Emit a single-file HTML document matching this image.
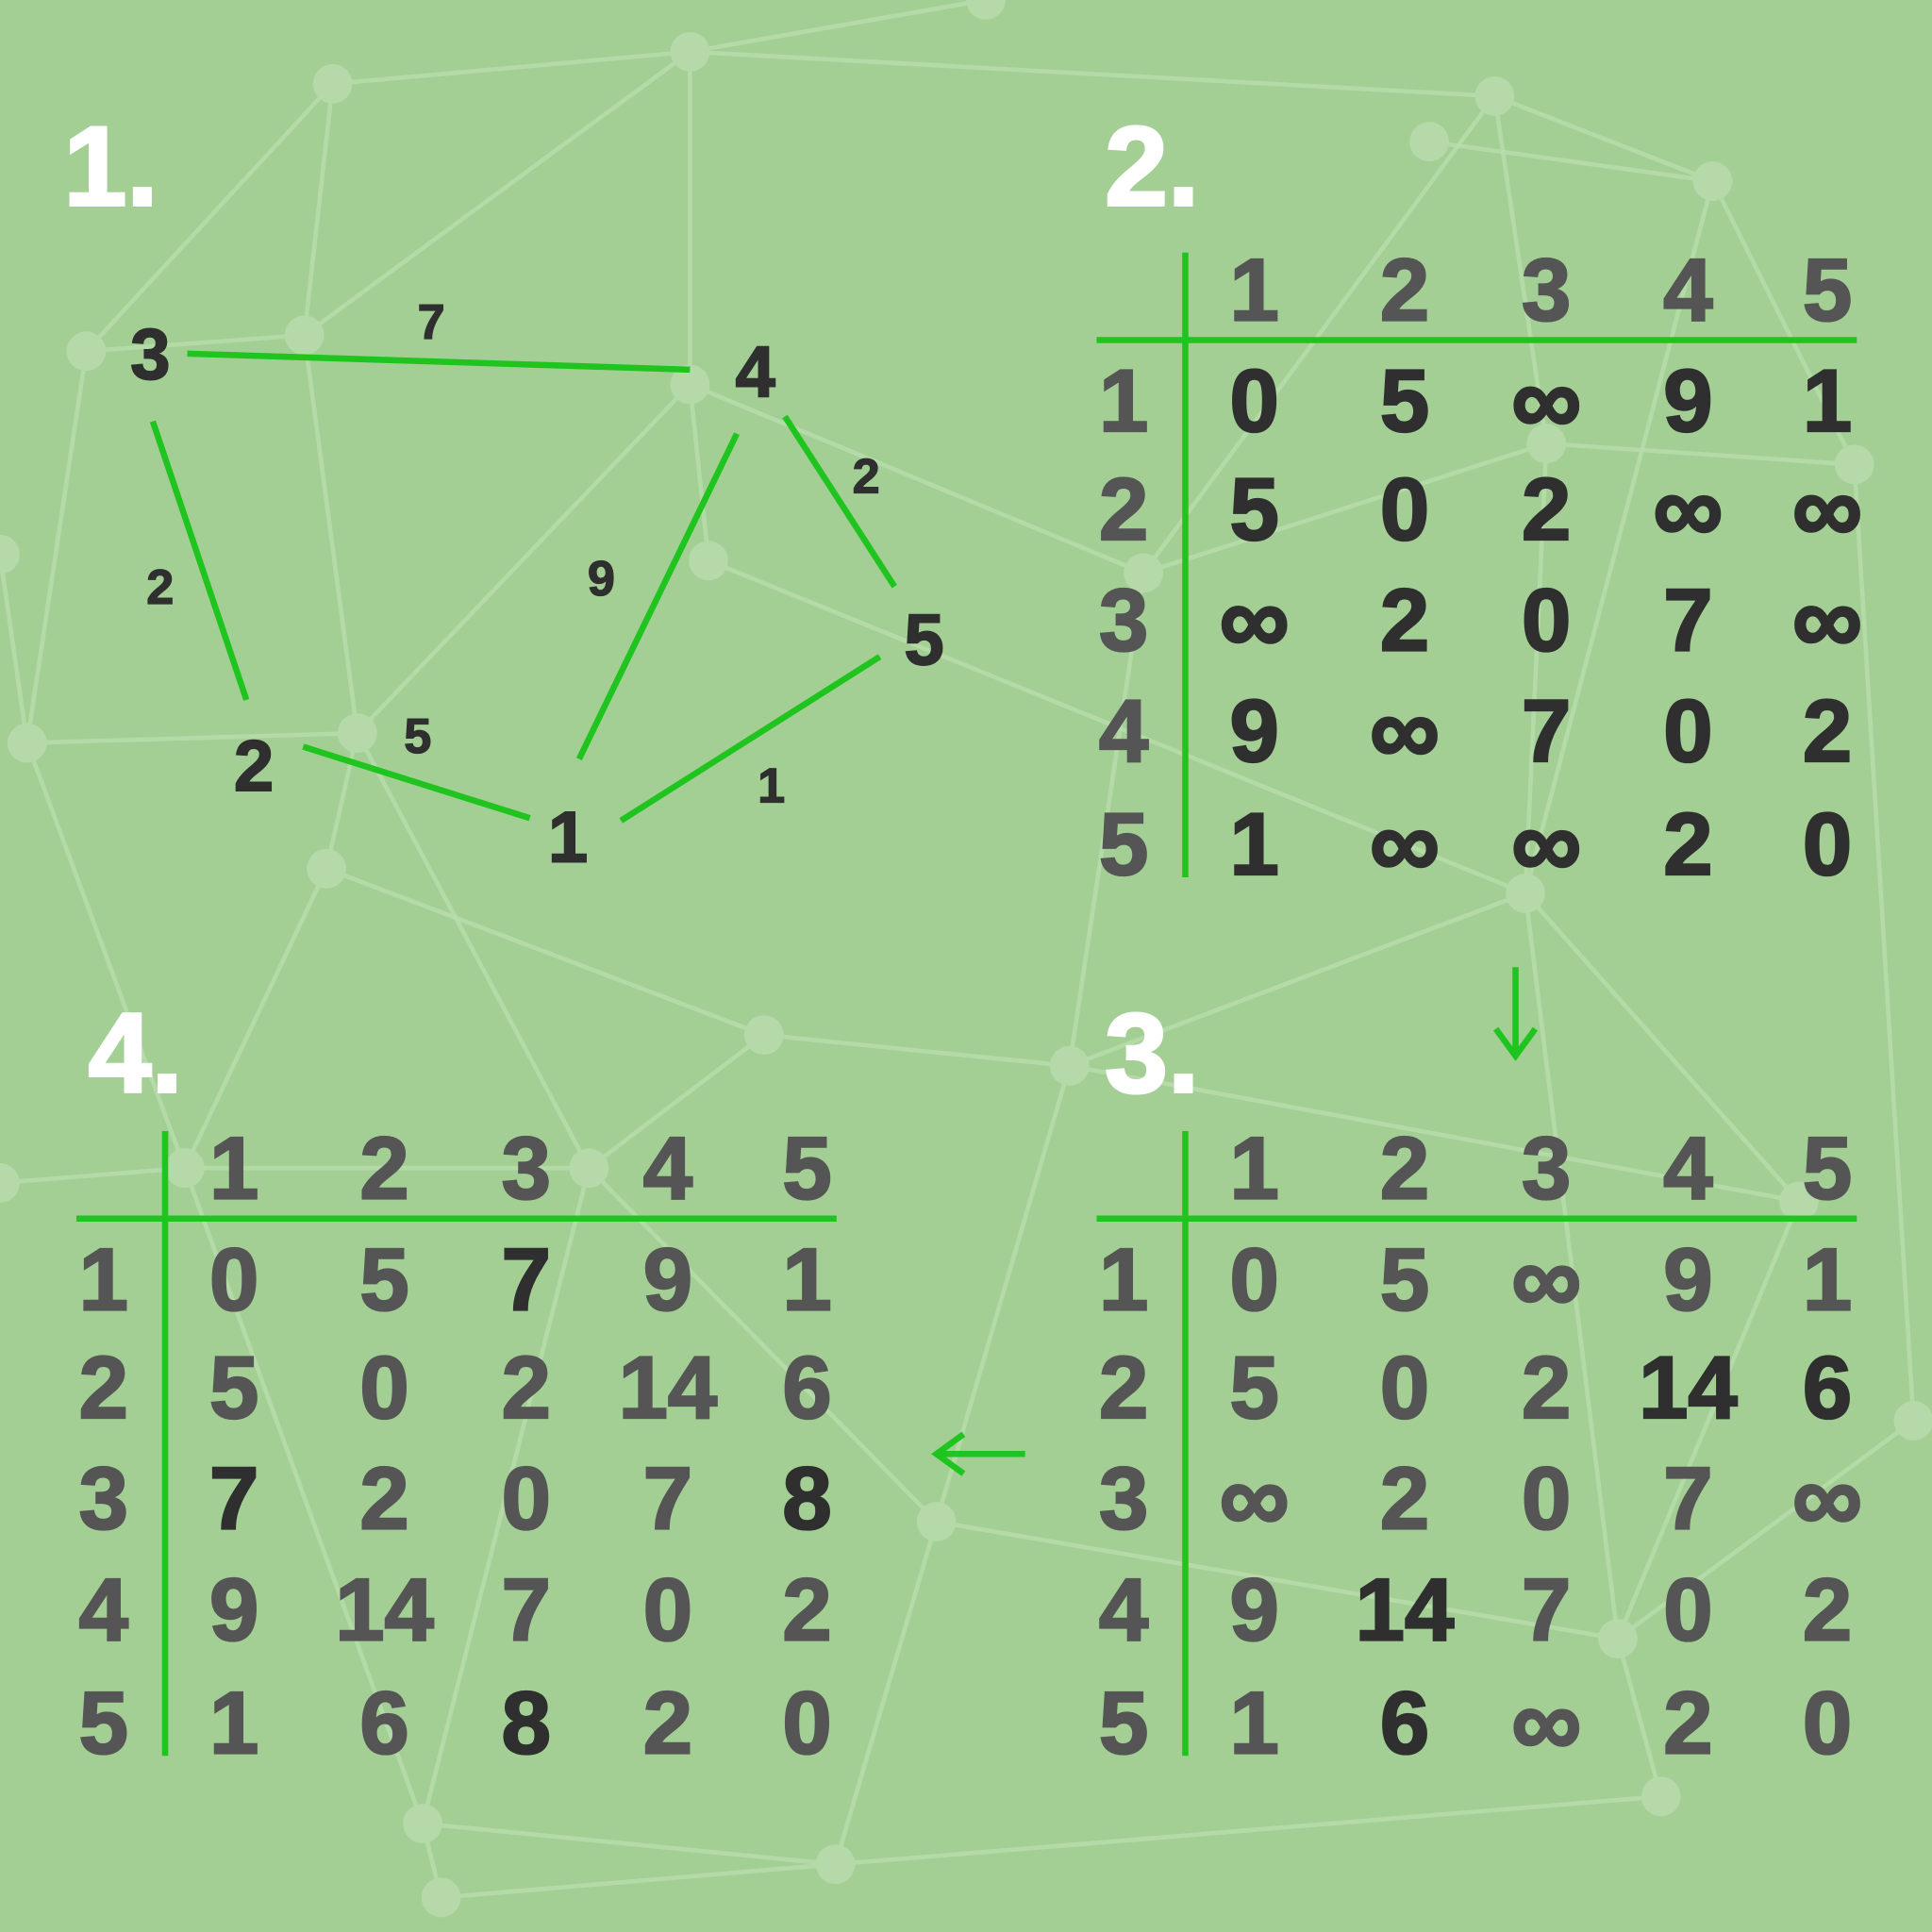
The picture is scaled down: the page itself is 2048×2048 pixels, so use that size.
<!DOCTYPE html>
<html><head><meta charset="utf-8"><style>
html,body{margin:0;padding:0;background:#a3cf95;}
svg{display:block}
text{font-family:"Liberation Sans","DejaVu Sans",sans-serif;font-weight:bold}
</style></head><body>
<svg id="s" width="2048" height="2048" viewBox="0 0 1568 1568" xmlns="http://www.w3.org/2000/svg">
<rect width="1568" height="1568" fill="#a3cf95"/>
<g id="net"></g>
<g id="main"></g>
</svg>
<script>
const NS="http://www.w3.org/2000/svg";
const svg=document.getElementById('main');
const net=document.getElementById('net');
function mk(tag,attrs,parent){const e=document.createElementNS(NS,tag);for(const k in attrs)e.setAttribute(k,attrs[k]);(parent||svg).appendChild(e);return e;}
function txt(x,y,s,size,fill,name,parent){const t=mk('text',{x:x,y:y,'font-size':size,fill:fill,stroke:fill,'stroke-width':size/40,'text-anchor':'middle','dominant-baseline':'central'},parent);t.textContent=s;


return t;}

// background network
const netNodes=[[270,68],[560,42],[1213,78],[1390,147],[1505,377],[928,465],[1238,725],[868,865],[760,1235],[478,948],[150,948],[290,595],[22,603],[70,285],[247,272],[560,312],[1313,1330],[1348,1458],[678,1513],[343,1480],[358,1540],[1553,1153],[1255,360],[620,840],[265,705],[575,455],[1460,975],[1160,115],[800,0],[0,450],[0,960]];
const netEdges=[[0,1],[1,2],[2,3],[3,4],[0,14],[1,14],[1,15],[14,13],[13,12],[12,11],[11,14],[11,9],[9,10],[10,12],[15,5],[5,2],[5,22],[22,4],[22,6],[6,7],[7,8],[8,9],[6,16],[16,17],[17,18],[18,19],[19,20],[8,18],[8,16],[4,21],[21,16],[7,23],[23,24],[24,11],[25,15],[25,6],[26,16],[26,6],[3,6],[0,13],[28,1],[27,3],[12,29],[10,30],[10,19],[20,18],[23,9],[24,10],[2,22],[5,7],[15,11],[7,26],[9,19]];
netEdges.forEach(([a,b])=>{const l=mk('line',{x1:netNodes[a][0],y1:netNodes[a][1],x2:netNodes[b][0],y2:netNodes[b][1],stroke:'#b9ddad','stroke-width':3.5,opacity:0.8},net);

});
netNodes.forEach(([x,y])=>{const c=mk('circle',{cx:x,cy:y,r:16,fill:'#b5d9a9'},net);

});

const G='#1fc41f', W='#ffffff', D='#2f2f2f', M='#555555';
txt(90,135,'1.',92,W,'step-1-title');
txt(935,135,'2.',92,W,'step-2-title');
txt(935,855,'3.',92,W,'step-3-title');
txt(110,855,'4.',92,W,'step-4-title');

// graph
const nodeLabels=['1','2','3','4','5'];
const nodePos=[[461,680],[206,622],[122,288],[613,302],[750,520]];
const edgeWeights=[7,2,9,2,5,1];
const edgeSeg=[[152,287,560,300],[124,342,200,568],[598,352,470,616],[637,338,726,476],[246,606,430,664],[504,666,714,533]];
const edgeLabelPos=[[350,262],[130,477],[488,470],[703,387],[339,598],[626,638]];
edgeSeg.forEach((s,i)=>{const l=mk('line',{x1:s[0],y1:s[1],x2:s[2],y2:s[3],stroke:G,'stroke-width':5});


txt(edgeLabelPos[i][0],edgeLabelPos[i][1],String(edgeWeights[i]),40,D,'edge-weight');});
nodePos.forEach((p,i)=>txt(p[0],p[1],nodeLabels[i],58,D,'graph-node'));

// matrices
const I='∞';
const m2=[[0,5,I,9,1],[5,0,2,I,I],[I,2,0,7,I],[9,I,7,0,2],[1,I,I,2,0]];
const m3=[[0,5,I,9,1],[5,0,2,14,6],[I,2,0,7,I],[9,14,7,0,2],[1,6,I,2,0]];
const m4=[[0,5,7,9,1],[5,0,2,14,6],[7,2,0,7,8],[9,14,7,0,2],[1,6,8,2,0]];
const hl2=[[1,1,1,1,1],[1,1,1,1,1],[1,1,1,1,1],[1,1,1,1,1],[1,1,1,1,1]];
const hl3=[[0,0,0,0,0],[0,0,0,1,1],[0,0,0,0,0],[0,1,0,0,0],[0,1,0,0,0]];
const hl4=[[0,0,1,0,0],[0,0,0,0,0],[1,0,0,0,1],[0,0,0,0,0],[0,0,1,0,0]];
function table(ox,oy,mat,hl,name){
  const g=mk('g',{});
  
  
  const colX=[128,250,365,480,593].map(v=>ox+v);
  const rowY=[49,137,227,317,409].map(v=>oy+v);
  const v=mk('line',{x1:ox+72,y1:oy-71,x2:ox+72,y2:oy+436,stroke:G,'stroke-width':5},g);
  
  
  const h=mk('line',{x1:ox,y1:oy,x2:ox+617,y2:oy,stroke:G,'stroke-width':5},g);
  
  
  for(let j=0;j<5;j++) txt(colX[j],oy-41,nodeLabels[j],72,M,'column-header',g);
  for(let i=0;i<5;i++){
    txt(ox+22,rowY[i],nodeLabels[i],72,M,'row-header',g);
    for(let j=0;j<5;j++){const val=mat[i][j];
      txt(colX[j],rowY[i],String(val),val===I?80:72,hl[i][j]?D:M,'matrix-cell',g);}
  }
}
table(890,276,m2,hl2,'matrix-step-2');
table(890,989,m3,hl3,'matrix-step-3');
table(62,989,m4,hl4,'matrix-step-4');

const a1=mk('path',{d:'M1230 785 L1230 857 M1214 835 L1230 857 L1246 835',stroke:G,'stroke-width':5,fill:'none'});


const a2=mk('path',{d:'M832 1180 L760 1180 M782 1164 L760 1180 L782 1196',stroke:G,'stroke-width':5,fill:'none'});


</script>
</body></html>
